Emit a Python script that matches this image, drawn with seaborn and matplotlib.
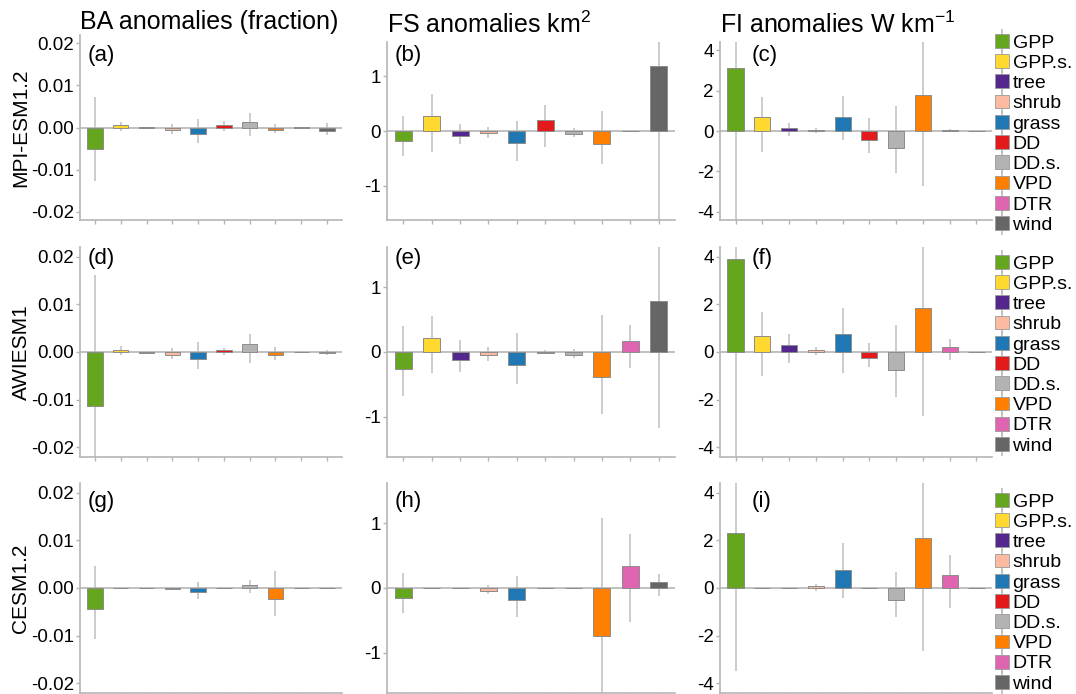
import numpy as np
import pandas as pd
import matplotlib
matplotlib.use("Agg")
import matplotlib.pyplot as plt
import seaborn as sns
from matplotlib.patches import Patch
from matplotlib.lines import Line2D

# ---------------- data ----------------
drivers = ["GPP", "GPP.s.", "tree", "shrub", "grass", "DD", "DD.s.", "VPD", "DTR", "wind"]
colors = ["#66a61e", "#ffd92f", "#54278f", "#fcbba1", "#1f78b4",
          "#e31a1c", "#b3b3b3", "#ff7f00", "#df65b0", "#666666"]
models = ["MPI-ESM1.2", "AWIESM1", "CESM1.2"]
titles = ["BA anomalies (fraction)", "FS anomalies km$^2$", "FI anomalies W km$^{-1}$"]
panel_labels = ["(a)", "(b)", "(c)", "(d)", "(e)", "(f)", "(g)", "(h)", "(i)"]

# BA, MPI-ESM1.2
ba_mpi = [-0.0052, 0.0006, 0.0001, -0.0006, -0.0015, 0.0006, 0.0014, -0.0006, 0.0001, -0.0008]
ba_mpi_hi = [0.0073, 0.0014, 0.0002, 0.0009, 0.0021, 0.0015, 0.0034, 0.0009, 0.0002, 0.0011]
ba_mpi_lo = [-0.0128, -0.0009, -0.0001, -0.0015, -0.0037, -0.0009, -0.0021, -0.0013, -0.0001, -0.0019]
# FS, MPI-ESM1.2
fs_mpi = [-0.19, 0.27, -0.09, -0.04, -0.22, 0.195, -0.05, -0.24, -0.005, 1.19]
fs_mpi_hi = [0.27, 0.67, 0.13, 0.07, 0.18, 0.48, 0.06, 0.37, 0.0, 2.0]
fs_mpi_lo = [-0.46, -0.39, -0.23, -0.12, -0.55, -0.29, -0.11, -0.61, -0.01, -2.0]
# FI, MPI-ESM1.2
fi_mpi = [3.1, 0.67, 0.17, 0.07, 0.70, -0.43, -0.83, 1.80, 0.05, 0.01]
fi_mpi_hi = [5.0, 1.67, 0.38, 0.15, 1.73, 0.63, 1.23, 5.0, 0.10, 0.02]
fi_mpi_lo = [-5.0, -1.02, -0.23, -0.08, -0.45, -1.07, -2.07, -2.72, 0.0, 0.0]

# BA, AWIESM1
ba_awi = [-0.0113, 0.0005, -0.0002, -0.0006, -0.0015, 0.0004, 0.0016, -0.0007, 0.0001, -0.0003]
ba_awi_hi = [0.0161, 0.0013, 0.0, 0.0008, 0.0022, 0.0008, 0.0038, 0.0010, 0.0002, 0.0004]
ba_awi_lo = [-0.030, -0.0007, -0.0004, -0.0015, -0.0036, -0.0007, -0.0023, -0.0017, 0.0, -0.0007]
# FS, AWIESM1
fs_awi = [-0.27, 0.22, -0.12, -0.05, -0.20, -0.01, -0.04, -0.38, 0.17, 0.79]
fs_awi_hi = [0.41, 0.55, 0.18, 0.08, 0.29, 0.03, 0.05, 0.58, 0.42, 2.0]
fs_awi_lo = [-0.68, -0.33, -0.31, -0.14, -0.50, -0.03, -0.09, -0.96, -0.25, -1.18]
# FI, AWIESM1
fi_awi = [3.89, 0.69, 0.29, 0.10, 0.74, -0.25, -0.77, 1.83, 0.22, 0.01]
fi_awi_hi = [5.0, 1.68, 0.74, 0.20, 1.83, 0.38, 1.15, 5.0, 0.53, 0.02]
fi_awi_lo = [-5.0, -1.00, -0.45, -0.11, -0.88, -0.63, -1.90, -2.68, -0.32, 0.0]

# BA, CESM1.2
ba_cesm = [-0.0043, 0.0001, 0.0, -0.0003, -0.0008, 0.0, 0.0007, -0.0024, 0.0001, 0.0]
ba_cesm_hi = [0.0047, 0.0001, 0.0, 0.0003, 0.0012, 0.0, 0.0017, 0.0035, 0.0001, 0.0]
ba_cesm_lo = [-0.0106, 0.0, 0.0, -0.0005, -0.0022, 0.0, -0.0011, -0.0059, 0.0, 0.0]
# FS, CESM1.2
fs_cesm = [-0.16, 0.0, 0.0, -0.05, -0.18, 0.0, 0.0, -0.74, 0.34, 0.09]
fs_cesm_hi = [0.23, 0.0, 0.0, 0.05, 0.19, 0.0, 0.0, 1.09, 0.84, 0.22]
fs_cesm_lo = [-0.39, 0.0, 0.0, -0.10, -0.45, 0.0, 0.0, -2.0, -0.52, -0.13]
# FI, CESM1.2
fi_cesm = [2.32, 0.0, 0.0, 0.08, 0.77, 0.0, -0.49, 2.08, 0.55, 0.0]
fi_cesm_hi = [5.0, 0.0, 0.0, 0.18, 1.90, 0.0, 0.69, 5.0, 1.37, 0.0]
fi_cesm_lo = [-3.48, 0.0, 0.0, -0.11, -0.42, 0.0, -1.20, -2.63, -0.82, 0.0]

values = [[ba_mpi, fs_mpi, fi_mpi], [ba_awi, fs_awi, fi_awi], [ba_cesm, fs_cesm, fi_cesm]]
highs = [[ba_mpi_hi, fs_mpi_hi, fi_mpi_hi], [ba_awi_hi, fs_awi_hi, fi_awi_hi], [ba_cesm_hi, fs_cesm_hi, fi_cesm_hi]]
lows = [[ba_mpi_lo, fs_mpi_lo, fi_mpi_lo], [ba_awi_lo, fs_awi_lo, fi_awi_lo], [ba_cesm_lo, fs_cesm_lo, fi_cesm_lo]]

ba_ticks = [-0.02, -0.01, 0.0, 0.01, 0.02]
ba_ticklabels = ["-0.02", "-0.01", "0.00", "0.01", "0.02"]
fs_ticks = [-1, 0, 1]
fs_ticklabels = ["-1", "0", "1"]
fi_ticks = [-4, -2, 0, 2, 4]
fi_ticklabels = ["-4", "-2", "0", "2", "4"]
col_ticks = [ba_ticks, fs_ticks, fi_ticks]
col_ticklabels = [ba_ticklabels, fs_ticklabels, fi_ticklabels]
col_ylim = [0.022, 1.625, 4.4]

# ---------------- style ----------------
sns.set_style("white")
plt.rcParams["font.family"] = ["Liberation Sans", "DejaVu Sans"]
plt.rcParams["mathtext.fontset"] = "custom"
plt.rcParams["mathtext.rm"] = "Liberation Sans"
plt.rcParams["mathtext.it"] = "Liberation Sans:italic"
plt.rcParams["axes.unicode_minus"] = False
plt.rcParams["text.color"] = "black"
plt.rcParams["axes.labelcolor"] = "black"
plt.rcParams["xtick.labelcolor"] = "black"
plt.rcParams["ytick.labelcolor"] = "black"

W, H = 1076, 694
fig = plt.figure(figsize=(W / 100, H / 100), dpi=100)

col_x = [(80, 342), (387, 675), (720, 992)]
row_y = [[(35, 220), (42, 220), (42, 220)],
         [(247, 457), (247, 457), (247, 457)],
         [(483, 693), (483, 693), (483, 693)]]
label_x = [88, 395, 752]
label_y = [55, 258, 501]
row_center = [127.5, 352, 588]
legend_top = [34, 255, 493]
title_pad = [4.3, 6.5, 6.5]

grey = "#b5b5b5"
palette = dict(zip(drivers, colors))

for r in range(3):
    for c in range(3):
        x0, x1 = col_x[c]
        y0, y1 = row_y[r][c]
        ax = fig.add_axes([x0 / W, 1 - y1 / H, (x1 - x0) / W, (y1 - y0) / H])
        df = pd.DataFrame({"driver": drivers, "value": values[r][c],
                           "lo": lows[r][c], "hi": highs[r][c]})
        ax.axhline(0, color=grey, lw=1.2, zorder=1.5)
        ax.vlines(np.arange(len(drivers)), df["lo"], df["hi"],
                  color="#c4c4c4", lw=1.2, zorder=1)
        sns.barplot(data=df, x="driver", y="value", hue="driver", order=drivers,
                    hue_order=drivers, palette=palette, width=0.6, errorbar=None,
                    saturation=1, legend=False, edgecolor="#8c8c8c", linewidth=0.7,
                    zorder=3, ax=ax)
        ax.set_xlim(-0.58, len(drivers) - 0.42)
        lim = col_ylim[c]
        ax.set_ylim(-lim, lim)
        ax.set_yticks(col_ticks[c])
        ax.set_yticklabels(col_ticklabels[c])
        ax.set_xticks(np.arange(len(drivers)))
        ax.set_xticklabels([])
        ax.set_xlabel("")
        ax.set_ylabel("")
        for s in ["top", "right"]:
            ax.spines[s].set_visible(False)
        for s in ["left", "bottom"]:
            ax.spines[s].set_color(grey)
            ax.spines[s].set_linewidth(1.2)
        ax.tick_params(axis="both", which="major", length=3, width=1, color=grey,
                       labelsize=13.5, labelcolor="black", pad=1.5, bottom=True, left=True)
        if r == 0:
            ax.set_title(titles[c], loc="left", fontsize=18, pad=title_pad[c], color="black")
        fig.text(label_x[c] / W, 1 - label_y[r] / H, panel_labels[3 * r + c],
                 ha="left", va="center", fontsize=16, color="black")
    fig.text(21 / W, 1 - row_center[r] / H, models[r], rotation=90,
             ha="center", va="center", fontsize=15, color="black")
    handles = []
    for d, col in zip(drivers, colors):
        handles.append((Line2D([], [], color="#bdbdbd", marker="|", markersize=17,
                               markeredgewidth=1.2, linestyle="None"),
                        Patch(facecolor=col, edgecolor="#9a9a9a", linewidth=0.6)))
    fig.legend(handles, drivers, loc="upper left",
               bbox_to_anchor=(995 / W, 1 - legend_top[r] / H),
               frameon=False, fontsize=14, handlelength=0.7, handleheight=0.7,
               handletextpad=0.2, labelspacing=0.135, borderpad=0, borderaxespad=0,
               labelcolor="black")

fig.savefig("out.png", dpi=100)
